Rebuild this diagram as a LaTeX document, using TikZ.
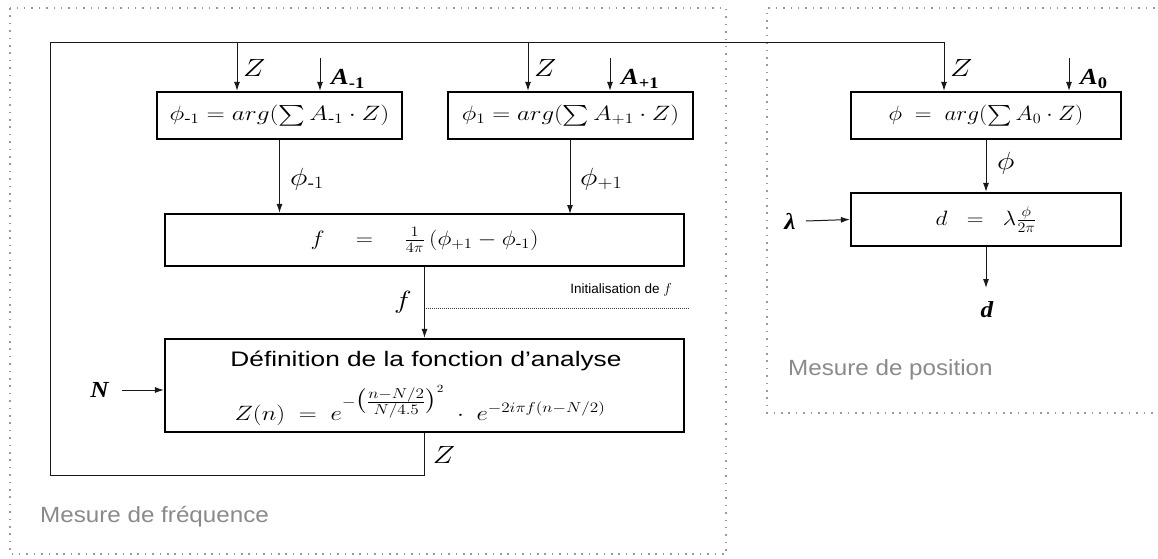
\documentclass[tikz,border=0pt]{standalone}
\usepackage{amsmath}
\usepackage{fontspec}
\setmainfont{Liberation Serif}
\newfontfamily\helv{Liberation Sans}
\usepackage{graphicx}
\usetikzlibrary{arrows.meta}
\newcommand{\sx}[2][1.3]{\scalebox{#1}[1]{#2}}
\newcommand{\mfs}{\fontsize{21.5}{25}\selectfont}
\newcommand{\lfs}{\fontsize{23}{27}\selectfont}
\definecolor{framegray}{HTML}{9A9A9A}
\definecolor{labgray}{HTML}{8A8A8A}
\tikzset{
  box/.style={draw=black, line width=2.2pt, inner sep=0pt, font=\mfs},
  arr/.style={-{Latex[length=9pt,width=6pt]}, line width=1pt, draw=black!90},
  lbl/.style={inner sep=0pt, font=\lfs},
  frame/.style={draw=framegray, line width=1.5pt, dash pattern=on 1.5pt off 5.9pt},
  initline/.style={draw=black!75, line width=0.8pt, dash pattern=on 0.8pt off 1.2pt},
  graylbl/.style={inner sep=0pt, text=labgray, font=\helv\fontsize{22}{26}\selectfont}
}
\begin{document}
\begin{tikzpicture}[x=1pt,y=-1pt]
\useasboundingbox (0,0) rectangle (1158,558);
% frames
\draw[frame] (10,8) rectangle (726,554);
\draw[frame] (1162,8) -- (767,8) -- (767,413) -- (1162,413);
% boxes
\node[box, minimum width=245pt, minimum height=47pt] (b1) at (279.5,115.5)
  {\sx[1.22]{$\phi_{\text{-}1} = arg(\textstyle\sum A_{\text{-}1}\cdot Z)$}};
\node[box, minimum width=245pt, minimum height=47pt] (b2) at (570.5,115.5)
  {\sx[1.2]{$\phi_{1} = arg(\textstyle\sum A_{+1}\cdot Z)$}};
\node[box, minimum width=270pt, minimum height=47pt] (b3) at (986,115.5)
  {\sx[1.12]{$\phi \;=\; arg(\textstyle\sum A_{0}\cdot Z)$}};
\node[box, minimum width=270pt, minimum height=53pt] (b4) at (986,219.5)
  {\sx[1.12]{$d \;\;=\;\; \lambda\frac{\phi}{2\pi}$}};
\node[box, minimum width=519pt, minimum height=52pt] (bf) at (424.5,240)
  {\sx[1.15]{$f \quad = \quad \frac{1}{4\pi}\,(\phi_{+1} - \phi_{\text{-}1})$}};
\node[box, minimum width=519pt, minimum height=93pt] (bd) at (424.5,385.5) {};
\node[inner sep=0pt, anchor=base] (bdt) at (426,366)
  {\helv\fontsize{21}{25}\selectfont\sx[1.25]{Définition de la fonction d’analyse}};
\node[inner sep=0pt, anchor=base, font=\fontsize{21}{25}\selectfont] (bdf) at (420,420)
  {\sx[1.2]{$Z(n) \;=\; e^{\lower4pt\hbox{$\scriptstyle -\bigl(\frac{\scriptstyle n-N/2}{\scriptstyle N/4.5}\bigr)^{2}$}} \;\cdot\; e^{-2i\pi f(n-N/2)}$}};
% feedback loop
\coordinate (z1) at (237,42);
\coordinate (z2) at (528,42);
\coordinate (z3) at (944,42);
\coordinate (lb) at (50,475);
\draw[arr] (bd.south) -- (bd.south |- lb) -- (lb) -- (lb |- z1) -- (z3) -- (z3 |- b3.north);
\draw[arr] (z1) -- (z1 |- b1.north);
\draw[arr] (z2) -- (z2 |- b2.north);
\node[lbl, anchor=west] (lz1) at (243,68) {\sx[1.2]{$Z$}};
\node[lbl, anchor=west] (lz2) at (534,68) {\sx[1.2]{$Z$}};
\node[lbl, anchor=west] (lz3) at (950,68) {\sx[1.2]{$Z$}};
\node[lbl] (lz4) at (444,455) {\sx[1.2]{$Z$}};
% A inputs
\coordinate (a1) at (320,58);
\coordinate (a2) at (610,58);
\coordinate (a3) at (1069,58);
\draw[arr] (a1) -- (a1 |- b1.north);
\draw[arr] (a2) -- (a2 |- b2.north);
\draw[arr] (a3) -- (a3 |- b3.north);
\node[lbl, anchor=west] (la1) at (331,79) {\sx[1.15]{\textbf{\textit{A}}$_{\textbf{-1}}$}};
\node[lbl, anchor=west] (la2) at (621,79) {\sx[1.15]{\textbf{\textit{A}}$_{\textbf{+1}}$}};
\node[lbl, anchor=west] (la3) at (1080,79) {\sx[1.15]{\textbf{\textit{A}}$_{\textbf{0}}$}};
% phi arrows
\draw[arr] (b1.south) -- (b1.south |- bf.north);
\draw[arr] (b2.south -| 570,0) -- (570,214);
\draw[arr] (b3.south) -- (b4.north);
\node[lbl, anchor=west] (lp1) at (290,179) {\sx[1.2]{$\phi_{\text{-}1}$}};
\node[lbl, anchor=west] (lp2) at (580,179) {\sx[1.2]{$\phi_{+1}$}};
\node[lbl, anchor=west] (lp3) at (997,163) {\sx[1.2]{$\phi$}};
% lambda and d
\node[lbl] (ll) at (790,221) {\sx[1.1]{\textbf{\textit{λ}}}};
\draw[arr] (ll.east) ++(10,0) -- (b4.west);
\coordinate (dend) at (986,288);
\draw[arr] (b4.south) -- (dend);
\node[lbl] (ld) at (987,310) {\sx[1.1]{\textbf{\textit{d}}}};
% f
\draw[arr] (bf.south -| 424.5,0) -- (bd.north -| 424.5,0);
\node[lbl] (lf) at (403,302) {\sx[1.2]{$f$}};
\coordinate (ie) at (689,308);
\draw[initline] (426,308) -- (ie);
\node[inner sep=0pt, anchor=east] (linit) at (672,290)
  {\helv\fontsize{13.5}{16}\selectfont Initialisation de $f$};
% N
\node[lbl] (ln) at (100,390) {\sx[1.1]{\textbf{\textit{N}}}};
\draw[arr] (122,390) -- (bd.west |- 0,390);
% gray labels
\node[graylbl, anchor=west] (mf) at (40,517) {\sx[1.1]{Mesure de fréquence}};
\node[graylbl, anchor=west] (mp) at (788,370) {\sx[1.1]{Mesure de position}};
\end{tikzpicture}
\end{document}
